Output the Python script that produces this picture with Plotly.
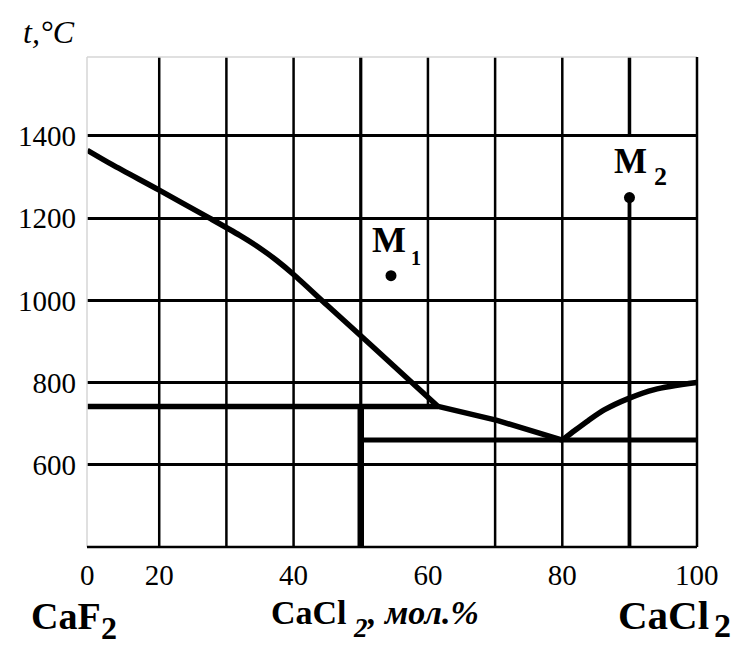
import plotly.graph_objects as go

# ---- axes: composition (mol.% CaCl2) and temperature (°C) ----
X_RANGE = [9.25, 100.05]
Y_RANGE = [400, 1592]
X_TICK_POS = [9.3, 20, 40, 60, 80, 100]
X_TICK_TEXT = ["0", "20", "40", "60", "80", "100"]
Y_TICKS = [600, 800, 1000, 1200, 1400]
X_GRID = [20, 30, 40, 70, 80]          # plain full-height verticals

# ---- liquidus of the CaF2 - CaCl2 system, in three branches ----
LIQ_LEFT_X = [9.3, 13, 20, 27.5, 32, 35, 37.5, 40, 45, 50, 55, 61.5]
LIQ_LEFT_T = [1365, 1330, 1268, 1200, 1158, 1127, 1097, 1063, 988, 914, 839, 742]
LIQ_MID_X = [61.5, 70.3, 80]
LIQ_MID_T = [742, 708, 660]
LIQ_RIGHT_X = [80, 81.9, 83.9, 86.3, 89.8, 93.7, 100]
LIQ_RIGHT_T = [660, 684, 708, 734, 761, 783, 800]

# ---- invariant horizontals and the compound line ----
PERITECTIC_T = 742
PERITECTIC_X = [9.3, 61.5]
EUTECTIC_T = 660
EUTECTIC_X = [50, 100]
COMPOUND_X = 50

# ---- figurative points ----
POINT_X = [54.5, 90]
POINT_T = [1060, 1250]

INK = "#000000"
FONT = "Liberation Serif"

fig = go.Figure()

shapes = []


def seg(x0, y0, x1, y1, w, color=INK, layer="below"):
    shapes.append(dict(type="line", xref="x", yref="y", x0=x0, y0=y0, x1=x1, y1=y1,
                       line=dict(color=color, width=w), layer=layer))


# vertical grid
for gx in X_GRID:
    seg(gx, Y_RANGE[0], gx, Y_RANGE[1], 2.5)
seg(COMPOUND_X, PERITECTIC_T, COMPOUND_X, Y_RANGE[1], 3.2)       # 50 % above the peritectic
seg(60, PERITECTIC_T, 60, Y_RANGE[1], 2.5)                        # 60 % only above 740
seg(POINT_X[1], 1400, POINT_X[1], Y_RANGE[1], 3.5)                # 90 % upper piece
seg(POINT_X[1], Y_RANGE[0], POINT_X[1], POINT_T[1], 3.8)          # 90 % below M2

# invariant lines
seg(PERITECTIC_X[0], PERITECTIC_T, PERITECTIC_X[1], PERITECTIC_T, 5.5, layer="above")
seg(EUTECTIC_X[0], EUTECTIC_T, EUTECTIC_X[1], EUTECTIC_T, 5.0, layer="above")
seg(COMPOUND_X, Y_RANGE[0], COMPOUND_X, PERITECTIC_T, 6.5, layer="above")

# frame
frame = [
    dict(x0=0, y0=0, x1=0, y1=1, color="#d6d6d6", w=1.5),
    dict(x0=0, y0=1, x1=1, y1=1, color="#d6d6d6", w=1.5),
    dict(x0=0, y0=0, x1=1, y1=0, color=INK, w=2.5),
    dict(x0=1, y0=0, x1=1, y1=1, color=INK, w=2.5),
]
for f in frame:
    shapes.append(dict(type="line", xref="paper", yref="paper", x0=f["x0"], y0=f["y0"],
                       x1=f["x1"], y1=f["y1"], line=dict(color=f["color"], width=f["w"]),
                       layer="above"))

for bx, bt, shape in [(LIQ_LEFT_X, LIQ_LEFT_T, "spline"),
                      (LIQ_MID_X, LIQ_MID_T, "linear"),
                      (LIQ_RIGHT_X, LIQ_RIGHT_T, "spline")]:
    fig.add_trace(go.Scatter(x=bx, y=bt, mode="lines",
                             line=dict(color=INK, width=5.5, shape=shape, smoothing=0.8),
                             hoverinfo="skip"))
fig.add_trace(go.Scatter(x=POINT_X, y=POINT_T, mode="markers",
                         marker=dict(color=INK, size=11), hoverinfo="skip"))

annotations = []


def label(text, x, y, size, xanchor="left"):
    annotations.append(dict(text=text, x=x, y=y, xref="paper", yref="paper",
                            xanchor=xanchor, yanchor="middle", showarrow=False,
                            font=dict(family=FONT, size=size, color=INK)))


label("<i>t,°C</i>", -0.0623, 1.052, 32, xanchor="center")
label("<b>CaF</b>", -0.095, -0.1408, 38)
label("<b>2</b>", 0.020, -0.1663, 32)
label("<b>CaCl</b>", 0.298, -0.1327, 34)
label("<b><i>2</i></b>", 0.432, -0.1643, 27)
label("<b><i>, мол.%</i></b>", 0.455, -0.1327, 34)
label("<b>CaCl</b>", 0.868, -0.1388, 41)
label("<b>2</b>", 1.024, -0.1592, 34)
label("<b>M</b>", 0.464, 0.6265, 36)
label("<b>1</b>", 0.528, 0.5888, 20)
label("<b>M</b>", 0.861, 0.7867, 35)
label("<b>2</b>", 0.927, 0.7561, 26)

fig.update_layout(
    width=740, height=646,
    margin=dict(l=87, r=43, t=57, b=99),
    paper_bgcolor="white", plot_bgcolor="white",
    showlegend=False,
    shapes=shapes,
    annotations=annotations,
    xaxis=dict(range=X_RANGE, tickmode="array", tickvals=X_TICK_POS, ticktext=X_TICK_TEXT,
               showgrid=False, zeroline=False, showline=False, ticks="",
               ticklabelstandoff=8,
               tickfont=dict(family=FONT, size=29, color=INK), fixedrange=True),
    yaxis=dict(range=Y_RANGE, tickmode="array", tickvals=Y_TICKS,
               showgrid=True, gridcolor=INK, gridwidth=2.5, zeroline=False,
               showline=False, ticks="", ticklabelstandoff=10,
               tickfont=dict(family=FONT, size=29, color=INK), fixedrange=True),
)

fig.write_html("out.html")
